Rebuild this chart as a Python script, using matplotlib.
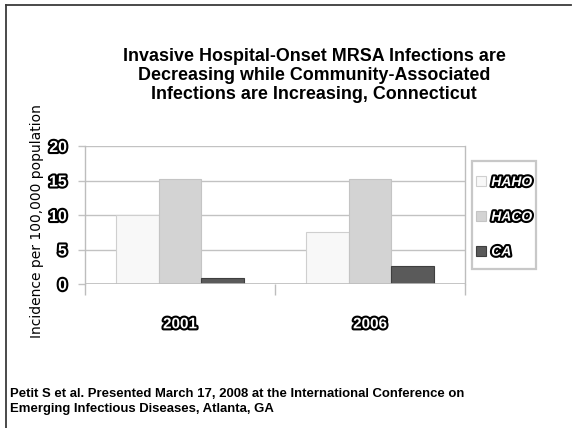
import matplotlib
matplotlib.use("Agg")
import matplotlib.pyplot as plt
import matplotlib.patheffects as pe
from matplotlib.lines import Line2D
from matplotlib.patches import Rectangle
import numpy as np

# Data: invasive MRSA incidence per 100,000 population
years = ["2001", "2006"]
series_names = ["HAHO", "HACO", "CA"]
haho = [10.0, 7.5]
haco = [15.2, 15.2]
ca = [0.9, 2.6]
y_ticks = [0, 5, 10, 15, 20]

FONT = "Liberation Sans"
W, H = 573, 428
fig = plt.figure(figsize=(W / 100, H / 100), dpi=100)
fig.patch.set_facecolor("white")

def px(x0, y0, x1, y1):
    return [x0 / W, 1 - y1 / H, (x1 - x0) / W, (y1 - y0) / H]

# Slide frame (top and left edges)
fig.add_artist(Line2D([6 / W, 571 / W], [1 - 5 / H, 1 - 5 / H], color="#3a3a3a", lw=1.3))
fig.add_artist(Line2D([6 / W, 6 / W], [1 - 5 / H, 0], color="#3a3a3a", lw=1.3))

title = ("Invasive Hospital-Onset MRSA Infections are\n"
         "Decreasing while Community-Associated\n"
         "Infections are Increasing, Connecticut")
fig.text(314 / W, 1 - 75.5 / H, title, ha="center", va="center",
         fontsize=12.9, fontweight="bold", family=FONT,
         linespacing=1.17)

ax = fig.add_axes(px(85, 146, 465, 284))

colors = ["#f8f8f8", "#d3d3d3", "#5a5a5a"]
edges = ["#cfcfcf", "#c4c4c4", "#3f3f3f"]
values = [haho, haco, ca]
x = np.arange(len(years))
bw = 0.224
for i, (vals, c, ec, name) in enumerate(zip(values, colors, edges, series_names)):
    ax.bar(x + (i - 1) * bw, vals, width=bw, color=c, edgecolor=ec,
           linewidth=0.8, label=name, zorder=3)

ax.set_xlim(-0.5, 1.5)
ax.set_ylim(0, 20)
ax.set_yticks(y_ticks)
ax.yaxis.grid(True, color="#c2c2c2", lw=1.0, zorder=0)
ax.set_axisbelow(True)

for s in ["top", "bottom"]:
    ax.spines[s].set_visible(False)
for s in ["left", "right"]:
    ax.spines[s].set_color("#bdbdbd")
    ax.spines[s].set_linewidth(1.0)
ax.axhline(0, color="#bdbdbd", lw=1.2, zorder=4)

outline = [pe.withStroke(linewidth=3, foreground="black")]
ax.tick_params(axis="y", length=5, color="#c2c2c2", width=1, pad=8)
ax.set_yticklabels([str(v) for v in y_ticks], fontsize=11.5,
                   fontweight="bold", color="white", family=FONT)
for t in ax.get_yticklabels():
    t.set_path_effects(outline)

ax.set_xticks(x)
ax.set_xticklabels(years, fontsize=11, fontweight="bold", color="white",
                   family=FONT)
for t in ax.get_xticklabels():
    t.set_path_effects(outline)
ax.tick_params(axis="x", which="major", length=0, pad=24)
ax.set_xticks([-0.5, 0.5, 1.5], minor=True)
ax.tick_params(axis="x", which="minor", length=8, color="#bdbdbd", width=1, direction="out")

fig.text(37 / W, 1 - 221 / H, "Incidence per 100,000 population", rotation=90,
         ha="center", va="center", fontsize=10, family="DejaVu Sans")

# Legend box outline, with the entries laid out inside it
fig.add_artist(Rectangle((472 / W, 1 - 269 / H), 64 / W, 108 / H,
                         transform=fig.transFigure, facecolor="none",
                         edgecolor="#c8c8c8", lw=1.6, zorder=1))
handles, labels = ax.get_legend_handles_labels()
leg = fig.legend(handles, labels, loc="upper left",
                 bbox_to_anchor=(476 / W, 1 - 175 / H),
                 frameon=False,
                 handlelength=0.7, handleheight=0.75, handletextpad=0.4,
                 labelspacing=1.5, borderpad=0, borderaxespad=0,
                 prop={"family": FONT, "weight": "bold",
                       "style": "italic", "size": 10})
leg.set_zorder(6)
for t in leg.get_texts():
    t.set_color("white")
    t.set_path_effects(outline)

foot = ("Petit S et al. Presented March 17, 2008 at the International Conference on\n"
        "Emerging Infectious Diseases, Atlanta, GA")
fig.text(10 / W, 1 - 401.5 / H, foot, ha="left", va="center", fontsize=9.45,
         fontweight="bold", family=FONT, linespacing=1.3)

fig.savefig("out.png", dpi=100, facecolor="white")
